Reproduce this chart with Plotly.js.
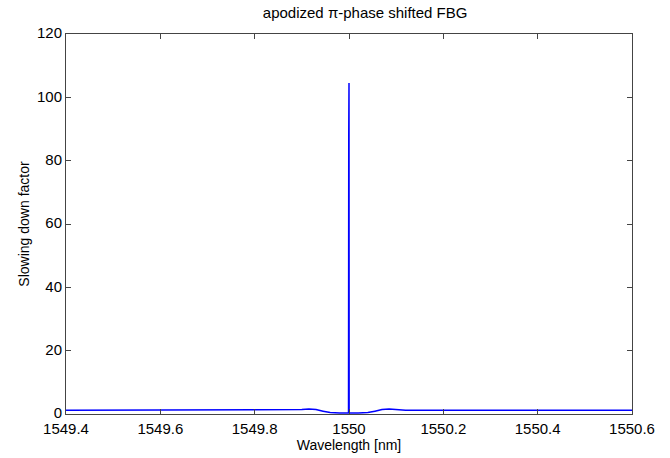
<!DOCTYPE html>
<html>
<head>
<meta charset="utf-8">
<script src="https://cdn.plot.ly/plotly-3.0.1.min.js"></script>
<style>html,body{margin:0;padding:0;background:#fff;}#chart{width:670px;height:458px;}</style>
</head>
<body>
<div id="chart"></div>
<script>
const wavelength = [1549.4, 1549.6, 1549.8, 1549.88, 1549.9, 1549.915, 1549.93, 1549.945, 1549.96, 1549.98, 1549.999, 1549.9995, 1549.9998, 1550.0, 1550.0003, 1550.02, 1550.04, 1550.055, 1550.07, 1550.085, 1550.1, 1550.12, 1550.3, 1550.6];
const slowdown   = [1.2,    1.2,    1.2,    1.2,     1.4,    1.55,     1.4,     0.9,      0.45,    0.3,     0.3,      88,        0.5,       104.5,  0.3,       0.3,     0.45,    0.9,      1.4,     1.55,     1.4,    1.2,     1.2,    1.2];
const xTicks = [1549.4, 1549.6, 1549.8, 1550, 1550.2, 1550.4, 1550.6];
const xTickLabels = ['1549.4', '1549.6', '1549.8', '1550', '1550.2', '1550.4', '1550.6'];
const yTicks = [0, 20, 40, 60, 80, 100, 120];

const FONT = 'Liberation Sans, Arial, Helvetica, sans-serif';
const trace = {
  x: wavelength, y: slowdown, type: 'scatter', mode: 'lines',
  line: {color: '#0000ff', width: 1.5}, hoverinfo: 'none'
};
const axisCommon = {
  showgrid: false, zeroline: false, showline: true, linecolor: '#444', linewidth: 1,
  mirror: 'ticks', ticks: 'inside', ticklen: 5, tickcolor: '#444',
  tickfont: {family: FONT, size: 15, color: '#000'}
};
const layout = {
  width: 670, height: 458,
  margin: {l: 66, r: 38, t: 34, b: 44},
  paper_bgcolor: '#fff', plot_bgcolor: '#fff',
  showlegend: false,
  title: {text: 'apodized π-phase shifted FBG', x: 0.545, xanchor: 'center', y: 0.972, yanchor: 'middle',
          font: {family: FONT, size: 15, color: '#000'}},
  xaxis: Object.assign({}, axisCommon, {
    range: [1549.4, 1550.6], tickvals: xTicks, ticktext: xTickLabels, ticklabelstandoff: 1,
    title: {text: 'Wavelength [nm]', standoff: 2, font: {family: FONT, size: 14, color: '#000'}}
  }),
  yaxis: Object.assign({}, axisCommon, {
    range: [0, 120], tickvals: yTicks, ticklabelshift: -1,
    title: {text: 'Slowing down factor', standoff: 4, font: {family: FONT, size: 14, color: '#000'}}
  })
};
Plotly.newPlot('chart', [trace], layout, {displayModeBar: false, staticPlot: true});
</script>
</body>
</html>
